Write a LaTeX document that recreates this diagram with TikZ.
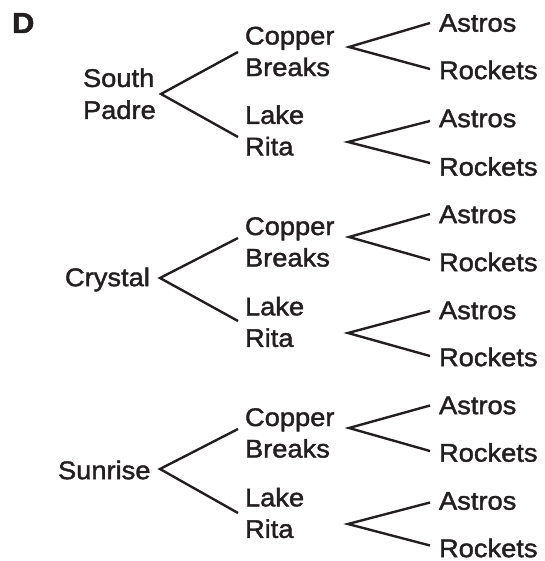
\documentclass[tikz,border=0pt]{standalone}
\usepackage{fontspec}
\setmainfont{Liberation Sans}[FakeStretch=1.07,FakeBold=1.6]
\definecolor{ink}{RGB}{35,31,32}
\begin{document}
\begin{tikzpicture}[x=1pt,y=-1pt,
  every node/.style={inner sep=0pt,outer sep=0pt,text=ink},
  lbl/.style={anchor=west,align=left,font=\fontsize{25.5}{31.5}\selectfont},
  toplbl/.style={anchor=west,align=left,font=\fontsize{25.5}{32}\selectfont},
  leaf/.style={anchor=west,font=\fontsize{25.5}{31.5}\selectfont,text height=18.3pt,text depth=0pt},
  branch/.style={draw=ink,line width=2.4pt}]
\useasboundingbox (0,0) rectangle (544,561);
\node[anchor=west,font=\fontsize{29}{30}\selectfont\bfseries,text height=21pt,text depth=0pt] (D) at (12,22.5) {D};

% ---------- Group 1: South Padre ----------
\node[toplbl] (sp) at (83,93.8) {South\\Padre};
\coordinate (spF) at (161,94);
\node[lbl] (cb1) at (245,51.5) {Copper\\Breaks};
\node[lbl] (lr1) at (245,130.5) {Lake\\Rita};
\coordinate (cb1F) at (349,47);
\coordinate (lr1F) at (348,142);
\node[leaf] (a11) at (439,22.5) {Astros};
\node[leaf] (r11) at (439,70) {Rockets};
\node[leaf] (a12) at (439,118) {Astros};
\node[leaf] (r12) at (439,166.5) {Rockets};
\draw[branch] ([shift={(-7,0.5)}]cb1.west) -- (spF) -- ([shift={(-7,6.5)}]lr1.west);
\draw[branch] ([shift={(-9,0.5)}]a11.west) -- (cb1F) -- ([shift={(-9,-1)}]r11.west);
\draw[branch] ([shift={(-9,3)}]a12.west) -- (lr1F) -- ([shift={(-9,-3.5)}]r12.west);

% ---------- Group 2: Crystal ----------
\node[leaf] (cr) at (65,277) {Crystal};
\coordinate (crF) at (160,278);
\node[lbl] (cb2) at (245,242) {Copper\\Breaks};
\node[lbl] (lr2) at (245,322) {Lake\\Rita};
\coordinate (cb2F) at (349,237);
\coordinate (lr2F) at (348,333);
\node[leaf] (a21) at (439,214) {Astros};
\node[leaf] (r21) at (439,262) {Rockets};
\node[leaf] (a22) at (439,310) {Astros};
\node[leaf] (r22) at (439,357) {Rockets};
\draw[branch] ([shift={(-7,-4)}]cb2.west) -- (crF) -- ([shift={(-7,-1)}]lr2.west);
\draw[branch] ([shift={(-9,0)}]a21.west) -- (cb2F) -- ([shift={(-9,-2)}]r21.west);
\draw[branch] ([shift={(-9,1)}]a22.west) -- (lr2F) -- ([shift={(-9,-1)}]r22.west);

% ---------- Group 3: Sunrise ----------
\node[leaf] (su) at (58,470) {Sunrise};
\coordinate (suF) at (160,469);
\node[lbl] (cb3) at (245,433) {Copper\\Breaks};
\node[lbl] (lr3) at (245,513) {Lake\\Rita};
\coordinate (cb3F) at (349,428);
\coordinate (lr3F) at (348,524);
\node[leaf] (a31) at (439,405) {Astros};
\node[leaf] (r31) at (439,452.5) {Rockets};
\node[leaf] (a32) at (439,500.5) {Astros};
\node[leaf] (r32) at (439,548) {Rockets};
\draw[branch] ([shift={(-7,-4)}]cb3.west) -- (suF) -- ([shift={(-7,0)}]lr3.west);
\draw[branch] ([shift={(-9,0.5)}]a31.west) -- (cb3F) -- ([shift={(-9,-1.5)}]r31.west);
\draw[branch] ([shift={(-9,2)}]a32.west) -- (lr3F) -- ([shift={(-9,-2.5)}]r32.west);
\end{tikzpicture}
\end{document}
